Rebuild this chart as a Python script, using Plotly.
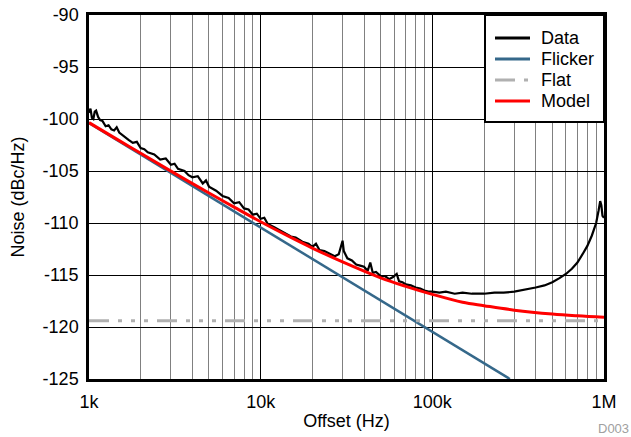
import plotly.graph_objects as go

data_freq = [
    1000, 1020, 1040, 1060, 1080, 1100, 1130, 1160, 1200, 1250, 1300, 1350, 1400,
    1450, 1500, 1550, 1600, 1700, 1800, 1900, 2000, 2100, 2200, 2400, 2600, 2800,
    3000, 3150, 3300, 3600, 3800, 4000, 4300, 4600, 4800, 5000, 5500, 6000, 6500,
    7000, 7500, 8000, 8500, 9000, 9500, 10000, 10500, 11000, 12000, 13000, 14000,
    15000, 16000, 17500, 19000, 20000, 21000, 22000, 23500, 25000, 27000, 28500,
    29500, 30000, 30500, 32000, 34000, 36000, 38000, 40000, 42000, 43500, 45000,
    47000, 50000, 53000, 56000, 59000, 62000, 64000, 67000, 70000, 75000, 80000,
    85000, 90000, 95000, 100000, 110000, 120000, 135000, 150000, 170000, 200000,
    230000, 260000, 300000, 350000, 400000, 450000, 500000, 550000, 600000,
    650000, 700000, 750000, 800000, 850000, 900000, 930000, 950000, 965000,
    980000, 1000000,
]
data_noise = [
    -99.4, -99.0, -99.9, -100.0, -99.3, -99.2, -99.8, -100.1, -100.2, -100.7, -100.6, -101.0, -101.1,
    -100.8, -101.3, -101.5, -101.7, -102.0, -102.3, -102.2, -102.8, -102.9, -103.2, -103.4, -103.9, -103.8,
    -104.4, -104.3, -104.8, -105.0, -105.4, -105.6, -105.5, -106.2, -105.9, -106.5, -106.9, -107.4, -107.6,
    -108.1, -108.0, -108.6, -108.7, -109.2, -109.1, -109.6, -109.5, -110.1, -110.4, -110.7, -111.0,
    -111.3, -111.4, -111.8, -112.0, -112.3, -112.0, -112.6, -112.7, -112.9, -113.2, -113.0,
    -112.0, -111.7, -112.7, -113.4, -113.6, -114.0, -114.1, -114.2, -114.6, -113.8, -114.8,
    -114.7, -115.1, -115.1, -115.4, -115.2, -114.9, -115.6, -115.7, -115.9, -116.0, -116.2,
    -116.3, -116.5, -116.6, -116.6, -116.7, -116.6, -116.8, -116.7, -116.8, -116.8,
    -116.7, -116.7, -116.6, -116.4, -116.2, -116.0, -115.7, -115.3, -114.9,
    -114.4, -113.8, -113.0, -112.2, -111.2, -110.0, -108.8, -107.9, -108.3,
    -109.3, -109.5,
]

# flicker asymptote (straight on log axis)
flicker_freq = [1000, 283000]
flicker_noise = [-100.4, -125.0]

# flat noise floor
flat_freq = [1000, 1000000]
flat_noise = [-119.4, -119.4]

# fitted model
model_freq = [1000, 1500, 2000, 3000, 5000, 7000, 10000, 15000, 20000, 30000,
              50000, 70000, 100000, 150000, 200000, 300000, 500000, 700000, 1000000]
model_noise = [-100.35, -102.08, -103.30, -105.01, -107.12, -108.47, -109.88, -111.39,
               -112.41, -113.74, -115.27, -116.09, -116.86, -117.62, -117.95, -118.38,
               -118.76, -118.93, -119.07]

x_tickvals = [1000, 10000, 100000, 1000000]
x_ticktext = ["1k", "10k", "100k", "1M"]
y_tickvals = [-125, -120, -115, -110, -105, -100, -95, -90]
y_ticktext = ["-125", "-120", "-115", "-110", "-105", "-100", "-95", "-90"]

FONT = "Liberation Sans, Arial, sans-serif"
W, H = 631, 437
L, R, T, B = 89, 27, 15, 58
FLAT_DASH = "20px,9px,4px,9px,4px,9px,4px,9px"


def px_x(px):
    return (px - L) / (W - L - R)


def px_y(py):
    return 1 - (py - T) / (H - T - B)


series = [
    ("Data", data_freq, data_noise, dict(color="black", width=2.2)),
    ("Flicker", flicker_freq, flicker_noise, dict(color="#35688a", width=2.5)),
    ("Flat", flat_freq, flat_noise, dict(color="#b0b0b0", width=3, dash=FLAT_DASH)),
    ("Model", model_freq, model_noise, dict(color="#ff0000", width=3, shape="spline")),
]

fig = go.Figure()
for name, xs, ys, line in series:
    fig.add_trace(go.Scatter(x=xs, y=ys, name=name, mode="lines", line=line, showlegend=False))

# hand-built legend: the box, then one sample line and label per row
fig.add_shape(
    type="rect", xref="paper", yref="paper",
    x0=px_x(485), x1=1, y0=px_y(122), y1=1,
    fillcolor="white", line=dict(color="black", width=2), layer="above",
)
legend_rows = [38, 59, 80, 101]
for (name, _, _, line), row in zip(series, legend_rows):
    sample = dict(color=line["color"], width=3, dash=line.get("dash", "solid"))
    fig.add_shape(
        type="line", xref="paper", yref="paper",
        x0=px_x(495), x1=px_x(530), y0=px_y(row), y1=px_y(row),
        line=sample, layer="above",
    )
    fig.add_annotation(
        text=name, xref="paper", yref="paper", x=px_x(539), y=px_y(row),
        xanchor="left", yanchor="middle", showarrow=False,
        font=dict(size=18, family=FONT, color="black"),
    )

fig.update_layout(
    width=W,
    height=H,
    margin=dict(l=L, r=R, t=T, b=B),
    plot_bgcolor="white",
    paper_bgcolor="white",
    font=dict(family=FONT, size=18, color="black"),
    xaxis=dict(
        type="log",
        range=[3, 6],
        title=dict(text="Offset (Hz)", standoff=4, font=dict(size=18)),
        tickmode="array",
        tickvals=x_tickvals,
        ticktext=x_ticktext,
        tickfont=dict(size=18),
        ticks="",
        ticklabelstandoff=5,
        automargin=False,
        showgrid=True,
        gridcolor="black",
        gridwidth=1,
        minor=dict(dtick="D1", showgrid=True, gridcolor="#808080", gridwidth=1.2),
        showline=True,
        linecolor="black",
        linewidth=2.5,
        mirror=True,
        zeroline=False,
    ),
    yaxis=dict(
        range=[-125, -90],
        title=dict(text="Noise (dBc/Hz)", standoff=14, font=dict(size=18)),
        tickmode="array",
        tickvals=y_tickvals,
        ticktext=y_ticktext,
        tickfont=dict(size=18),
        ticks="",
        ticklabelstandoff=4,
        automargin=False,
        showgrid=True,
        gridcolor="black",
        gridwidth=1,
        showline=True,
        linecolor="black",
        linewidth=2.5,
        mirror=True,
        zeroline=False,
    ),
    showlegend=False,
)

fig.add_annotation(
    text="D003", x=1.0, y=0, xref="paper", yref="paper", xanchor="right", yanchor="middle",
    xshift=R, yshift=-(428 - (H - B)), showarrow=False,
    font=dict(size=13, color="#a0a0a0", family=FONT),
)

fig.write_html(
    "out.html",
    config={"displayModeBar": False},
    post_script="document.body.style.margin='0';",
)
